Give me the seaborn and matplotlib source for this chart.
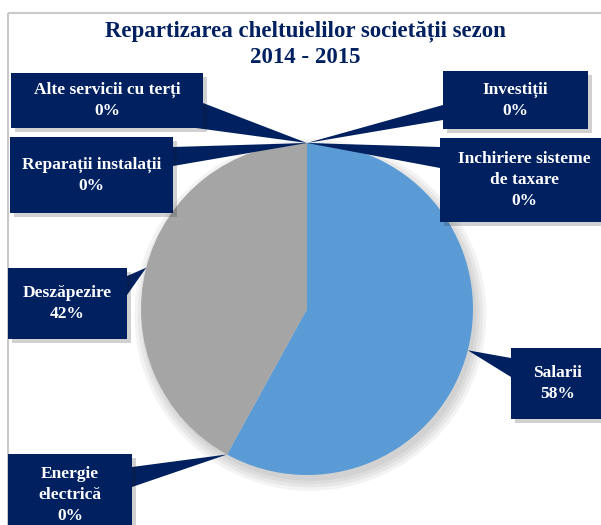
import numpy as np
import matplotlib
matplotlib.use("Agg")
import matplotlib.pyplot as plt
import matplotlib.patheffects as pe
from matplotlib.patches import Rectangle, Polygon, Circle
import seaborn as sns

# data
categories = ["Salarii", "Energie\nelectrică", "Deszăpezire", "Reparații instalații",
              "Alte servicii cu terți", "Investiții", "Inchiriere sisteme\nde taxare"]
values = [58, 0, 42, 0, 0, 0, 0]
colors = ["#5B9BD5", "#ED7D31", "#A5A5A5", "#FFC000", "#4472C4", "#70AD47", "#264478"]

title = "Repartizarea cheltuielilor societății sezon\n2014 - 2015"
navy = "#002060"

sns.set_theme(style="white")
plt.rcParams['font.family'] = ['Liberation Serif', 'DejaVu Serif']

W, H = 601, 525
fig = plt.figure(figsize=(W / 100, H / 100), dpi=100)

# pie axes placed over the circle (pixels: center 307,309 radius 166)
cx, cy, r = 307, 309, 166
pie_ax = fig.add_axes([(cx - r) / W, (H - cy - r) / H, 2 * r / W, 2 * r / H])
# soft shadow under the pie
for k, a in enumerate([0.05, 0.05, 0.05, 0.05]):
    pie_ax.add_patch(Circle((0.02, -0.035), 1.0 + 0.02 * (3 - k), facecolor="k",
                            alpha=a, edgecolor="none", clip_on=False, zorder=0))
wedges, _ = pie_ax.pie(values, colors=colors, startangle=90, counterclock=False,
                       radius=1, wedgeprops=dict(linewidth=0, zorder=2))
pie_ax.set_xlim(-1, 1)
pie_ax.set_ylim(-1, 1)
pie_ax.axis("off")

# overlay in pixel coordinates
lay = fig.add_axes([0, 0, 1, 1], facecolor="none")
lay.set_xlim(0, W)
lay.set_ylim(H, 0)
lay.axis("off")

lay.add_patch(Rectangle((8, 13), 620, 540, fill=False, edgecolor="#C9C9C9", lw=1.5))

lay.text(305, 44, title, ha="center", va="center", fontsize=16.5, fontweight="bold",
         color=navy, linespacing=1.35)

# label boxes (x0, y0, x1, y1) and pointer bases
boxes = {
    "Salarii": ((511, 348, 605, 419), [(511, 358), (511, 377)]),
    "Energie\nelectrică": ((8, 454, 132, 536), [(132, 467), (132, 487)]),
    "Deszăpezire": ((8, 268, 127, 339), [(127, 276), (127, 295)]),
    "Reparații instalații": ((10, 137, 173, 213), [(173, 147), (173, 166)]),
    "Alte servicii cu terți": ((11, 73, 203, 128), [(203, 103), (196, 128)]),
    "Investiții": ((443, 71, 588, 129), [(443, 105), (443, 120)]),
    "Inchiriere sisteme\nde taxare": ((440, 138, 608, 222), [(440, 147), (440, 168)]),
}

total = sum(values)
cum = 0
shadow = [pe.SimplePatchShadow(offset=(3, -3), alpha=0.2, shadow_rgbFace="k"), pe.Normal()]
for cat, v in zip(categories, values):
    theta = np.deg2rad(90 - 360 * (cum + v / 2) / total)
    cum += v
    tip_disp = pie_ax.transData.transform((np.cos(theta), np.sin(theta)))
    tip = lay.transData.inverted().transform(tip_disp)
    (x0, y0, x1, y1), base = boxes[cat]
    lay.add_patch(Polygon([base[0], tuple(tip), base[1]], closed=True,
                          facecolor=navy, edgecolor="none", zorder=3))
    rect = Rectangle((x0, y0), x1 - x0, y1 - y0, facecolor=navy, edgecolor="none", zorder=4)
    rect.set_path_effects(shadow)
    lay.add_patch(rect)
    tx = (x0 + x1) / 2
    lay.text(tx, (y0 + y1) / 2, f"{cat}\n{round(v / total * 100)}%", ha="center", va="center",
             fontsize=12.5, fontweight="bold", color="white", linespacing=1.4, zorder=5)

fig.savefig("out.png", dpi=100)
